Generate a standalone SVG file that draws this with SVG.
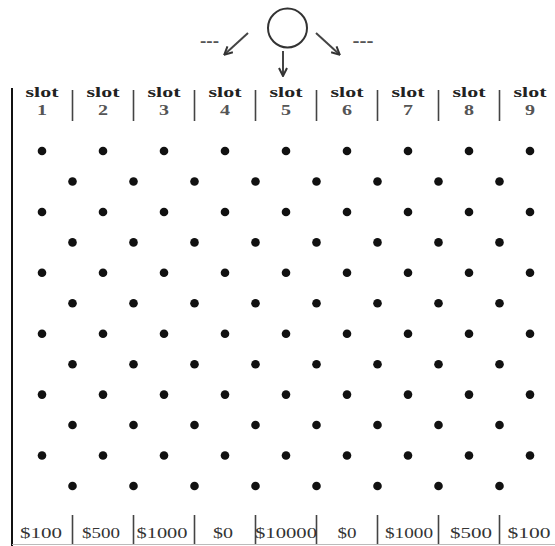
<svg xmlns="http://www.w3.org/2000/svg" width="555" height="546" viewBox="0 0 555 546">
<style>
.frame{stroke:#111;stroke-width:2;fill:none}
.div{stroke:#444;stroke-width:1.6}
.peg{fill:#111}
.slot{font-family:"Liberation Serif",serif;font-weight:bold;font-size:15px;fill:#222;text-anchor:middle}
.num{font-family:"Liberation Serif",serif;font-weight:bold;font-size:14px;fill:#555;text-anchor:middle}
.prize{font-family:"Liberation Serif",serif;font-size:15px;fill:#333;text-anchor:middle}
.dash{font-family:"Liberation Sans",sans-serif;font-weight:bold;font-size:14px;fill:#555;text-anchor:middle}
.arr{stroke:#444;stroke-width:2;fill:none;marker-end:url(#ah)}
</style>
<defs>
<marker id="ah" viewBox="0 0 10 10" refX="8" refY="5" markerWidth="5" markerHeight="5" orient="auto">
<path d="M1,1 L9,5 L1,9" fill="none" stroke="#333" stroke-width="2"/>
</marker>
</defs>
<g id="ball">
<circle cx="287.5" cy="28" r="19.5" fill="none" stroke="#333" stroke-width="2"/>
<text class="dash" x="209.5" y="46" textLength="19" lengthAdjust="spacingAndGlyphs">---</text>
<text class="dash" x="363" y="46" textLength="21" lengthAdjust="spacingAndGlyphs">---</text>
</g>
<g id="connectors">
<line class="arr" x1="248" y1="33" x2="225" y2="54"/>
<line class="arr" x1="283" y1="51" x2="283" y2="75"/>
<line class="arr" x1="316" y1="33" x2="339" y2="54"/>
</g>
<g id="frame">
<line class="frame" x1="12" y1="88" x2="12" y2="546"/>
<line x1="12" y1="544.5" x2="555" y2="544.5" stroke="#bbb" stroke-width="1"/>
<g class="div">
<line x1="72.5" y1="90" x2="72.5" y2="121"/><line x1="133.5" y1="90" x2="133.5" y2="121"/>
<line x1="194.5" y1="90" x2="194.5" y2="121"/><line x1="255.5" y1="90" x2="255.5" y2="121"/>
<line x1="316.5" y1="90" x2="316.5" y2="121"/><line x1="377.5" y1="90" x2="377.5" y2="121"/>
<line x1="438.5" y1="90" x2="438.5" y2="121"/><line x1="499.5" y1="90" x2="499.5" y2="121"/>
<line x1="72.5" y1="515" x2="72.5" y2="544"/><line x1="133.5" y1="515" x2="133.5" y2="544"/>
<line x1="194.5" y1="515" x2="194.5" y2="544"/><line x1="255.5" y1="515" x2="255.5" y2="544"/>
<line x1="316.5" y1="515" x2="316.5" y2="544"/><line x1="377.5" y1="515" x2="377.5" y2="544"/>
<line x1="438.5" y1="515" x2="438.5" y2="544"/><line x1="499.5" y1="515" x2="499.5" y2="544"/>
</g>
</g>
<g id="slots">
<g id="slot1"><text class="slot" x="42" y="97" textLength="33" lengthAdjust="spacingAndGlyphs">slot</text><text class="num" x="42" y="115" textLength="10" lengthAdjust="spacingAndGlyphs">1</text></g>
<g id="slot2"><text class="slot" x="103" y="97" textLength="33" lengthAdjust="spacingAndGlyphs">slot</text><text class="num" x="103" y="115" textLength="10" lengthAdjust="spacingAndGlyphs">2</text></g>
<g id="slot3"><text class="slot" x="164" y="97" textLength="33" lengthAdjust="spacingAndGlyphs">slot</text><text class="num" x="164" y="115" textLength="10" lengthAdjust="spacingAndGlyphs">3</text></g>
<g id="slot4"><text class="slot" x="225" y="97" textLength="33" lengthAdjust="spacingAndGlyphs">slot</text><text class="num" x="225" y="115" textLength="10" lengthAdjust="spacingAndGlyphs">4</text></g>
<g id="slot5"><text class="slot" x="286" y="97" textLength="33" lengthAdjust="spacingAndGlyphs">slot</text><text class="num" x="286" y="115" textLength="10" lengthAdjust="spacingAndGlyphs">5</text></g>
<g id="slot6"><text class="slot" x="347" y="97" textLength="33" lengthAdjust="spacingAndGlyphs">slot</text><text class="num" x="347" y="115" textLength="10" lengthAdjust="spacingAndGlyphs">6</text></g>
<g id="slot7"><text class="slot" x="408" y="97" textLength="33" lengthAdjust="spacingAndGlyphs">slot</text><text class="num" x="408" y="115" textLength="10" lengthAdjust="spacingAndGlyphs">7</text></g>
<g id="slot8"><text class="slot" x="469" y="97" textLength="33" lengthAdjust="spacingAndGlyphs">slot</text><text class="num" x="469" y="115" textLength="10" lengthAdjust="spacingAndGlyphs">8</text></g>
<g id="slot9"><text class="slot" x="530" y="97" textLength="33" lengthAdjust="spacingAndGlyphs">slot</text><text class="num" x="530" y="115" textLength="10" lengthAdjust="spacingAndGlyphs">9</text></g>
</g>
<g id="prizes">
<text class="prize" x="41" y="538" textLength="42" lengthAdjust="spacingAndGlyphs">$100</text>
<text class="prize" x="101" y="538" textLength="38" lengthAdjust="spacingAndGlyphs">$500</text>
<text class="prize" x="162" y="538" textLength="51" lengthAdjust="spacingAndGlyphs">$1000</text>
<text class="prize" x="223" y="538" textLength="20" lengthAdjust="spacingAndGlyphs">$0</text>
<text class="prize" x="286" y="538" textLength="62" lengthAdjust="spacingAndGlyphs">$10000</text>
<text class="prize" x="347" y="538" textLength="19" lengthAdjust="spacingAndGlyphs">$0</text>
<text class="prize" x="409" y="538" textLength="48" lengthAdjust="spacingAndGlyphs">$1000</text>
<text class="prize" x="471" y="538" textLength="42" lengthAdjust="spacingAndGlyphs">$500</text>
<text class="prize" x="529" y="538" textLength="43" lengthAdjust="spacingAndGlyphs">$100</text>
</g>
<defs>
<g id="rowA">
<circle cx="42" cy="0" r="4.3"/><circle cx="103" cy="0" r="4.3"/><circle cx="164" cy="0" r="4.3"/><circle cx="225" cy="0" r="4.3"/><circle cx="286" cy="0" r="4.3"/><circle cx="347" cy="0" r="4.3"/><circle cx="408" cy="0" r="4.3"/><circle cx="469" cy="0" r="4.3"/><circle cx="530" cy="0" r="4.3"/>
</g>
<g id="rowB">
<circle cx="72.5" cy="0" r="4.3"/><circle cx="133.5" cy="0" r="4.3"/><circle cx="194.5" cy="0" r="4.3"/><circle cx="255.5" cy="0" r="4.3"/><circle cx="316.5" cy="0" r="4.3"/><circle cx="377.5" cy="0" r="4.3"/><circle cx="438.5" cy="0" r="4.3"/><circle cx="499.5" cy="0" r="4.3"/>
</g>
</defs>
<g id="pegs" class="peg">
<use href="#rowA" y="151"/>
<use href="#rowB" y="181.5"/>
<use href="#rowA" y="212"/>
<use href="#rowB" y="242.4"/>
<use href="#rowA" y="272.8"/>
<use href="#rowB" y="303.3"/>
<use href="#rowA" y="333.7"/>
<use href="#rowB" y="364.2"/>
<use href="#rowA" y="394.6"/>
<use href="#rowB" y="425"/>
<use href="#rowA" y="455.5"/>
<use href="#rowB" y="486"/>
</g>
</svg>
